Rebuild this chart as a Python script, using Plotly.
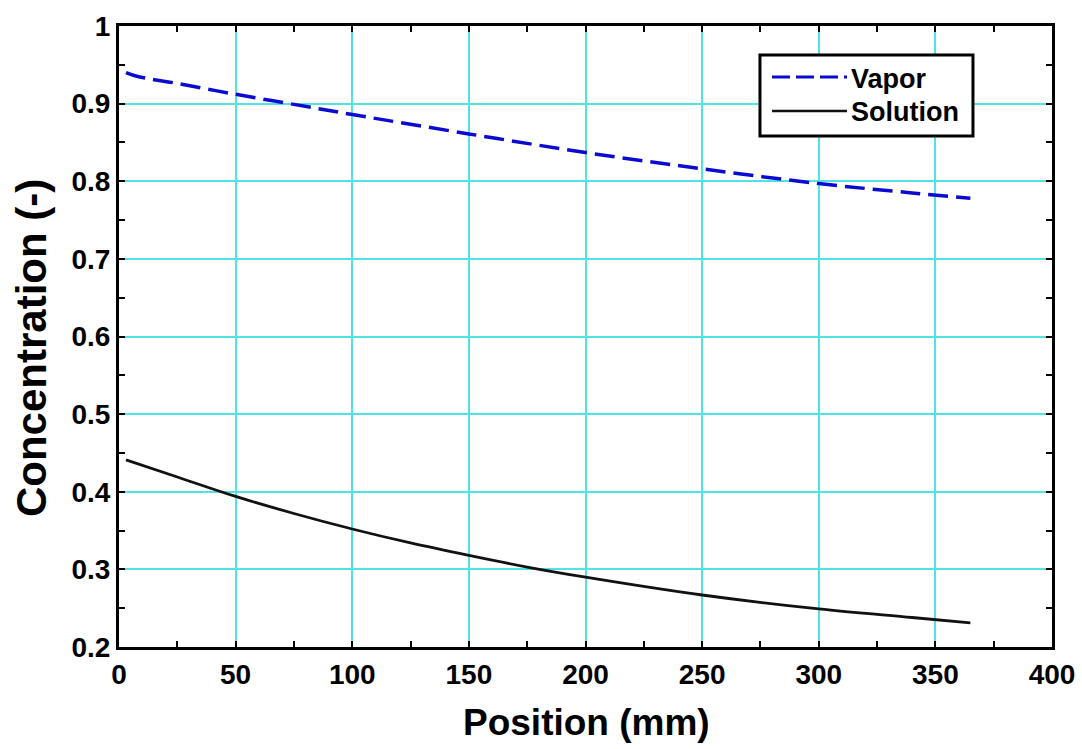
import plotly.graph_objects as go

vapor_x = [3, 8, 25, 50, 75, 100, 150, 200, 250, 300, 340, 365]
vapor_y = [0.940, 0.935, 0.926, 0.912, 0.899, 0.886, 0.861, 0.837, 0.816, 0.797, 0.785, 0.778]

sol_x = [3, 25, 50, 75, 100, 125, 150, 175, 200, 250, 300, 340, 365]
sol_y = [0.441, 0.419, 0.394, 0.372, 0.352, 0.334, 0.318, 0.303, 0.290, 0.267, 0.249, 0.238, 0.231]

x_ticks = [0, 50, 100, 150, 200, 250, 300, 350, 400]
x_tick_labels = ["0", "50", "100", "150", "200", "250", "300", "350", "400"]
y_ticks = [0.2, 0.3, 0.4, 0.5, 0.6, 0.7, 0.8, 0.9, 1.0]
y_tick_labels = ["0.2", "0.3", "0.4", "0.5", "0.6", "0.7", "0.8", "0.9", "1"]

font_family = "Liberation Sans, Arial, sans-serif"
grid_color = "#4fe3e3"
vapor_color = "#0a0ad0"
sol_color = "#111111"
vapor_dash = "20px,8px"

fig = go.Figure()
fig.add_trace(go.Scatter(x=vapor_x, y=vapor_y, mode="lines", name="Vapor",
                         line=dict(color=vapor_color, width=3.5, dash=vapor_dash, shape="spline")))
fig.add_trace(go.Scatter(x=sol_x, y=sol_y, mode="lines", name="Solution",
                         line=dict(color=sol_color, width=2.8, shape="spline")))

axis_common = dict(
    showline=True, linecolor="black", linewidth=3, mirror="ticks",
    showgrid=True, gridcolor=grid_color, gridwidth=1.5,
    ticks="inside", ticklen=6, tickcolor="black", tickwidth=1.5,
    zeroline=False, tickmode="array", automargin=False,
    tickfont=dict(family=font_family, size=28, color="black"),
)

fig.update_xaxes(range=[0, 400], tickvals=x_ticks,
                 ticktext=["<b>%s</b>" % t for t in x_tick_labels],
                 minor=dict(tickmode="linear", tick0=0, dtick=25, ticks="inside", ticklen=6,
                            tickcolor="black", showgrid=False),
                 **axis_common)
fig.update_yaxes(range=[0.2, 1.0], tickvals=y_ticks,
                 ticktext=["<b>%s</b>" % t for t in y_tick_labels],
                 minor=dict(tickmode="linear", tick0=0.2, dtick=0.05, ticks="inside", ticklen=6,
                            tickcolor="black", showgrid=False),
                 **axis_common)

annotations = [
    dict(text="<b>Position (mm)</b>", xref="paper", yref="paper", x=0.5016, y=-0.1208,
         xanchor="center", yanchor="middle", showarrow=False,
         font=dict(family=font_family, size=37, color="black")),
    dict(text="<b>Concentration (-)</b>", xref="paper", yref="paper", x=-0.0932, y=0.4815,
         xanchor="center", yanchor="middle", showarrow=False, textangle=-90,
         font=dict(family=font_family, size=42, color="black")),
    dict(text="<b>Vapor</b>", xref="paper", yref="paper", x=0.7824, y=0.9147,
         xanchor="left", yanchor="middle", showarrow=False,
         font=dict(family=font_family, size=27, color="black")),
    dict(text="<b>Solution</b>", xref="paper", yref="paper", x=0.7824, y=0.8615,
         xanchor="left", yanchor="middle", showarrow=False,
         font=dict(family=font_family, size=27, color="black")),
]

shapes = [
    dict(type="rect", xref="paper", yref="paper", x0=0.687, x1=0.9153, y0=0.8229, y1=0.9533,
         line=dict(color="black", width=3), fillcolor="white", layer="above"),
    dict(type="line", xref="paper", yref="paper", x0=0.6999, x1=0.7803, y0=0.9179, y1=0.9179,
         line=dict(color=vapor_color, width=3, dash="18px,6px"), layer="above"),
    dict(type="line", xref="paper", yref="paper", x0=0.6999, x1=0.7803, y0=0.8631, y1=0.8631,
         line=dict(color=sol_color, width=2.5), layer="above"),
]

fig.update_layout(
    width=1082, height=749,
    margin=dict(l=119, r=30, t=26, b=102, autoexpand=False),
    plot_bgcolor="white", paper_bgcolor="white",
    showlegend=False,
    annotations=annotations,
    shapes=shapes,
)

fig.write_html("out.html")
